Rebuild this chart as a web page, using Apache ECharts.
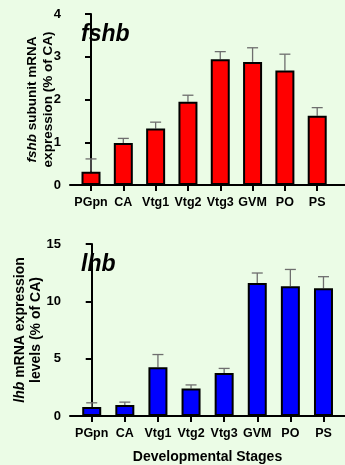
<!DOCTYPE html>
<html>
<head>
<meta charset="utf-8">
<script src="https://cdn.jsdelivr.net/npm/echarts@6/dist/echarts.min.js"></script>
<style>
  html, body { margin: 0; padding: 0; background: #ebfce6; }
  #chart { width: 345px; height: 465px; }
</style>
</head>
<body>
<div id="chart"></div>
<script>
// developmental stages
const stages = ['PGpn', 'CA', 'Vtg1', 'Vtg2', 'Vtg3', 'GVM', 'PO', 'PS'];
const stageIdx = [0, 1, 2, 3, 4, 5, 6, 7];

// fshb subunit mRNA (% of CA), mean and SEM
const fshbMean = [0.31, 0.98, 1.32, 1.95, 2.94, 2.88, 2.68, 1.62];
const fshbSem = [0.30, 0.11, 0.15, 0.15, 0.18, 0.33, 0.38, 0.19];
const fshbTicks = [0, 1, 2, 3, 4];

// lhb mRNA (% of CA), mean and SEM
const lhbMean = [0.78, 0.95, 4.26, 2.39, 3.74, 11.6, 11.32, 11.14];
const lhbSem = [0.37, 0.26, 1.10, 0.32, 0.41, 0.87, 1.46, 1.01];
const lhbTicks = [0, 5, 10, 15];

const FONT = "'Liberation Sans', Arial, sans-serif";
let myChart = echarts.init(document.getElementById('chart'));

// x axis (value type so the bars sit like GraphPad)
function xAxisFor(gridIndex, min, max, showName) {
    return {
        type: 'value',
        gridIndex: gridIndex,
        min: min,
        max: max,
        splitLine: { show: false },
        axisLine: { show: true, onZero: false, lineStyle: { color: '#000', width: 2 } },
        axisTick: { show: true, customValues: stageIdx, length: 6, lineStyle: { color: '#000', width: 2 } },
        axisLabel: {
            show: true,
            customValues: stageIdx,
            margin: 11,
            color: '#000',
            fontFamily: FONT,
            fontWeight: 'bold',
            fontSize: 12.5,
            formatter: v => stages[Math.round(v)] || ''
        },
        name: showName ? 'Developmental Stages' : '',
        nameLocation: 'middle',
        nameGap: 34,
        nameMoveOverlap: false,
        nameTextStyle: { color: '#000', fontFamily: FONT, fontWeight: 'bold', fontSize: 14 }
    };
}

function yAxisFor(gridIndex, ticks, name, gap, fs) {
    return {
        type: 'value',
        gridIndex: gridIndex,
        min: ticks[0],
        max: ticks[ticks.length - 1],
        interval: ticks[1] - ticks[0],
        splitLine: { show: false },
        axisLine: { show: true, lineStyle: { color: '#000', width: 2 } },
        axisTick: { show: true, length: 6, lineStyle: { color: '#000', width: 2 } },
        axisLabel: { margin: 9, color: '#000', fontFamily: FONT, fontWeight: 'bold', fontSize: 13 },
        name: name,
        nameLocation: 'middle',
        nameRotate: 90,
        nameGap: gap,
        nameMoveOverlap: false,
        nameTextStyle: {
            color: '#000', fontFamily: FONT, fontWeight: 'bold', fontSize: fs, lineHeight: fs + 2,
            rich: { i: { fontStyle: 'italic', fontWeight: 'bold', fontSize: fs, fontFamily: FONT, color: '#000' } }
        }
    };
}

function barSeries(idx, mean, color) {
    return {
        type: 'bar',
        xAxisIndex: idx,
        yAxisIndex: idx,
        barWidth: 19,
        z: 3,
        itemStyle: { color: color, borderColor: '#000', borderWidth: 2 },
        data: mean.map((v, i) => [i, v])
    };
}

//误差线
function errSeries(idx, mean, sem) {
    return {
        type: 'custom',
        xAxisIndex: idx,
        yAxisIndex: idx,
        z: 2,
        silent: true,
        renderItem: (params, api) => {
            let base = api.coord([api.value(0), api.value(1)]);
            let top = api.coord([api.value(0), api.value(1) + api.value(2)]);
            let hw = 5.5;
            return {
                type: 'group',
                children: [{
                    type: 'line',
                    shape: { x1: base[0], y1: base[1], x2: top[0], y2: top[1] },
                    style: { stroke: '#6e6e6e', lineWidth: 1.3 }
                }, {
                    type: 'line',
                    shape: { x1: top[0] - hw, y1: top[1], x2: top[0] + hw, y2: top[1] },
                    style: { stroke: '#6e6e6e', lineWidth: 1.3 }
                }]
            };
        },
        data: mean.map((v, i) => [i, v, sem[i]])
    };
}

let titleStyle = { fontFamily: FONT, fontSize: 23, fontWeight: 'bold', fontStyle: 'italic', color: '#000' };

let option = {
    backgroundColor: '#ebfce6',
    animation: false,
    title: [
        { text: 'fshb', left: 81, top: 23, padding: 0, textStyle: titleStyle },
        { text: 'lhb', left: 81, top: 253, padding: 0, textStyle: titleStyle }
    ],
    grid: [
        { left: 70, right: 0, top: 14, height: 171 },
        { left: 70, right: 0, top: 244, height: 174 }
    ],
    xAxis: [
        xAxisFor(0, -0.65, 7.86, false),
        xAxisFor(1, -0.656, 7.65, true)
    ],
    yAxis: [
        yAxisFor(0, fshbTicks, '{i|fshb} subunit mRNA\nexpression (% of CA)', 14, 13.5),
        yAxisFor(1, lhbTicks, '{i|lhb} mRNA expression\nlevels (% of CA)', 26, 14)
    ],
    series: [
        errSeries(0, fshbMean, fshbSem),
        barSeries(0, fshbMean, '#ff0000'),
        errSeries(1, lhbMean, lhbSem),
        barSeries(1, lhbMean, '#0000ff')
    ]
};
myChart.setOption(option);
</script>
</body>
</html>
